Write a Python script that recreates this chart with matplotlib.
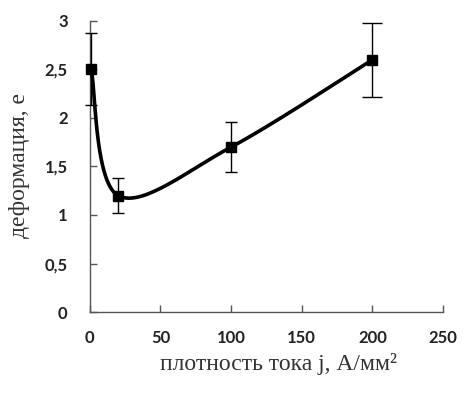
import matplotlib
matplotlib.use('Agg')
import matplotlib.pyplot as plt
import numpy as np
from matplotlib.ticker import FuncFormatter

# Data
current_density = [1, 20, 100, 200]
deformation = [2.5, 1.2, 1.7, 2.6]
deformation_err = [0.37, 0.18, 0.26, 0.38]

X_MAX, Y_MAX = 250, 3


def smooth_curve(xs, ys, sx, sy, n=60):
    """Excel-like smoothed line: Catmull-Rom style Bezier in screen units."""
    px = np.asarray(xs, float) / sx
    py = np.asarray(ys, float) / sy
    pts = np.column_stack([px, py])
    pts = np.vstack([pts[0], pts, pts[-1]])
    out = []
    t = np.linspace(0, 1, n)[:, None]
    for i in range(1, len(pts) - 2):
        p0, p1, p2, p3 = pts[i - 1], pts[i], pts[i + 1], pts[i + 2]
        c1 = p1 + (p2 - p0) / 6
        c2 = p2 - (p3 - p1) / 6
        seg = ((1 - t) ** 3) * p1 + 3 * ((1 - t) ** 2) * t * c1 \
            + 3 * (1 - t) * t ** 2 * c2 + t ** 3 * p2
        out.append(seg)
    out = np.vstack(out)
    return out[:, 0] * sx, out[:, 1] * sy


fig = plt.figure(figsize=(4.63, 3.94), dpi=100)
ax = fig.add_axes([0.194, 0.208, 0.763, 0.739])

# axis scales in pixels: 353 px for 250 units, 291 px for 3 units
cx, cy = smooth_curve(current_density, deformation, 250 / 353, 3 / 291)
ax.plot(cx, cy, color='black', linewidth=2.6, zorder=3, clip_on=False)

# last error bar has visibly wider caps in the reference
for sl, cap in [(slice(0, 3), 4.3), (slice(3, 4), 7.0)]:
    eb = ax.errorbar(current_density[sl], deformation[sl],
                     yerr=deformation_err[sl], fmt='s', color='black',
                     markersize=6.5, ecolor='black', elinewidth=1.0,
                     capsize=cap, capthick=1.0, zorder=4)
    for artist in eb.lines[0:1] + tuple(eb.lines[1]) + tuple(eb.lines[2]):
        artist.set_clip_on(False)

ax.set_xlim(0, X_MAX)
ax.set_ylim(0, Y_MAX)
ax.set_xticks(np.arange(0, 251, 50))
ax.set_yticks(np.arange(0, 3.01, 0.5))
ax.yaxis.set_major_formatter(FuncFormatter(
    lambda v, p: ('%g' % v).replace('.', ',')))

for s in ['top', 'right']:
    ax.spines[s].set_visible(False)
for s in ['left', 'bottom']:
    ax.spines[s].set_color('#555555')
    ax.spines[s].set_linewidth(1.0)

ax.tick_params(axis='both', direction='in', length=5, width=1.0,
               color='#555555', labelsize=12)
ax.tick_params(axis='x', pad=13)
ax.tick_params(axis='y', pad=16)
for lab in ax.get_xticklabels() + ax.get_yticklabels():
    lab.set_fontweight('bold')
    lab.set_color('#222222')
    lab.set_fontfamily('Lato')

ax.set_xlabel('плотность тока j, А/мм²', fontsize=17,
              family='Liberation Serif', color='#333333')
ax.set_ylabel('деформация, е', fontsize=17,
              family='Liberation Serif', color='#333333')
ax.xaxis.label.set_va('center')
ax.yaxis.label.set_va('center')
ax.xaxis.set_label_coords(0.535, -0.18)
ax.yaxis.set_label_coords(-0.198, 0.505)

fig.savefig('out.png', dpi=100, facecolor='white')
